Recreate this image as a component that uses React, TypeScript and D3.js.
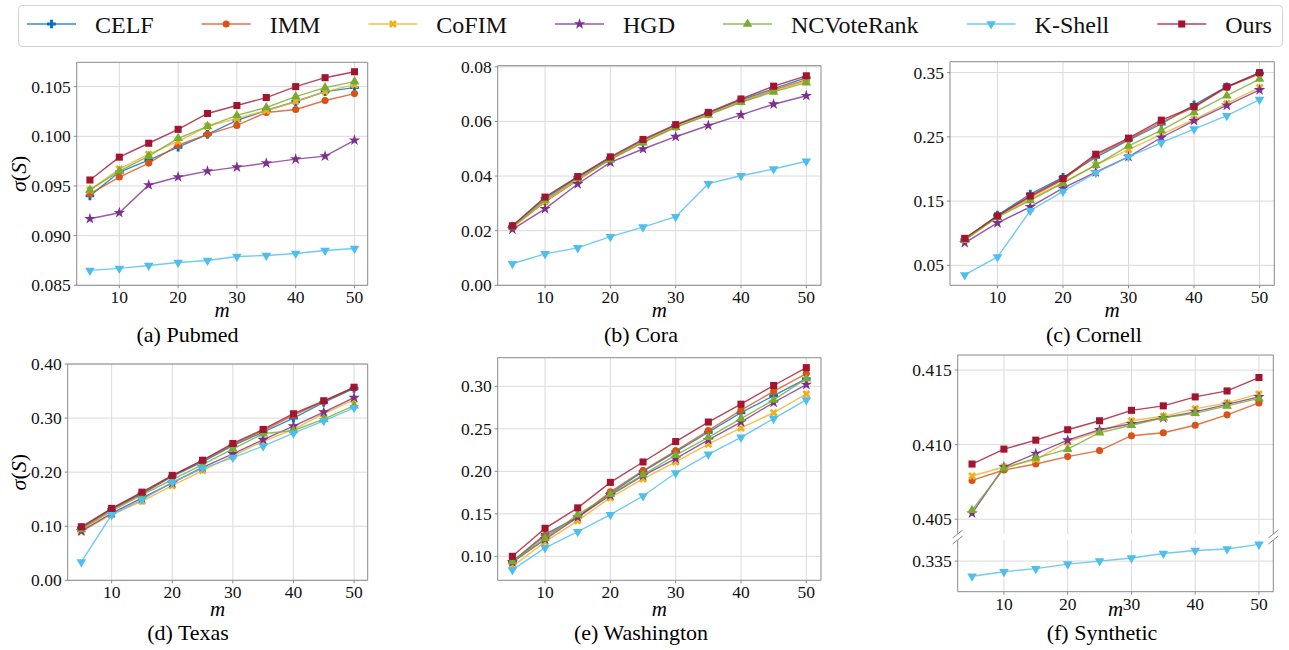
import React from 'react'
import * as d3 from 'd3'

const FONT = "'Liberation Serif', 'Times New Roman', Times, serif"

// x values (seed set size m)
const mValues = [5, 10, 15, 20, 25, 30, 35, 40, 45, 50]
const xTicks = [10, 20, 30, 40, 50]

const methodNames = ['CELF', 'IMM', 'CoFIM', 'HGD', 'NCVoteRank', 'K-Shell', 'Ours']
const methodColors = ['#0072BD', '#D95319', '#EDB120', '#7E2F8E', '#77AC30', '#4DBEEE', '#A2142F']

// series order follows methodNames
const pubmed = [
  [0.0940, 0.0964, 0.0976, 0.0989, 0.1002, 0.1016, 0.1026, 0.1035, 0.1045, 0.1049],
  [0.0942, 0.0959, 0.0973, 0.0991, 0.1002, 0.1011, 0.1024, 0.1027, 0.1036, 0.1043],
  [0.0946, 0.0967, 0.0982, 0.0995, 0.1010, 0.1018, 0.1026, 0.1035, 0.1045, 0.1052],
  [0.0917, 0.0923, 0.0951, 0.0959, 0.0965, 0.0969, 0.0973, 0.0977, 0.0980, 0.0996],
  [0.0946, 0.0965, 0.0980, 0.0998, 0.1010, 0.1021, 0.1029, 0.1040, 0.1049, 0.1055],
  [0.0865, 0.0867, 0.0870, 0.0873, 0.0875, 0.0879, 0.0880, 0.0882, 0.0885, 0.0887],
  [0.0956, 0.0979, 0.0993, 0.1007, 0.1023, 0.1031, 0.1039, 0.1050, 0.1059, 0.1065],
]

const cora = [
  [0.0215, 0.0318, 0.0395, 0.0466, 0.0530, 0.0585, 0.0630, 0.0678, 0.0720, 0.0760],
  [0.0212, 0.0305, 0.0385, 0.0462, 0.0525, 0.0580, 0.0625, 0.0672, 0.0715, 0.0752],
  [0.0213, 0.0308, 0.0388, 0.0463, 0.0527, 0.0582, 0.0627, 0.0673, 0.0712, 0.0748],
  [0.0205, 0.0280, 0.0371, 0.0450, 0.0499, 0.0544, 0.0585, 0.0624, 0.0663, 0.0694],
  [0.0214, 0.0312, 0.0392, 0.0460, 0.0522, 0.0578, 0.0624, 0.0670, 0.0708, 0.0742],
  [0.0079, 0.0115, 0.0137, 0.0178, 0.0213, 0.0251, 0.0372, 0.0401, 0.0426, 0.0454],
  [0.0218, 0.0323, 0.0398, 0.0470, 0.0534, 0.0588, 0.0633, 0.0682, 0.0729, 0.0767],
]

const cornell = [
  [0.090, 0.128, 0.161, 0.187, 0.218, 0.245, 0.270, 0.300, 0.328, 0.349],
  [0.091, 0.126, 0.156, 0.183, 0.221, 0.246, 0.273, 0.296, 0.327, 0.348],
  [0.090, 0.126, 0.153, 0.179, 0.206, 0.230, 0.254, 0.277, 0.302, 0.327],
  [0.085, 0.116, 0.141, 0.170, 0.195, 0.219, 0.249, 0.275, 0.299, 0.323],
  [0.089, 0.125, 0.151, 0.178, 0.206, 0.236, 0.260, 0.288, 0.314, 0.340],
  [0.035, 0.063, 0.135, 0.165, 0.194, 0.219, 0.241, 0.262, 0.283, 0.308],
  [0.092, 0.127, 0.158, 0.185, 0.223, 0.248, 0.276, 0.297, 0.328, 0.350],
]

const texas = [
  [0.097, 0.131, 0.160, 0.192, 0.219, 0.249, 0.274, 0.300, 0.329, 0.355],
  [0.096, 0.132, 0.161, 0.193, 0.222, 0.251, 0.277, 0.305, 0.331, 0.356],
  [0.090, 0.122, 0.146, 0.175, 0.203, 0.230, 0.257, 0.279, 0.308, 0.334],
  [0.091, 0.124, 0.152, 0.180, 0.209, 0.234, 0.260, 0.285, 0.311, 0.338],
  [0.094, 0.128, 0.158, 0.186, 0.214, 0.243, 0.271, 0.277, 0.298, 0.323],
  [0.034, 0.121, 0.149, 0.181, 0.207, 0.227, 0.248, 0.272, 0.295, 0.319],
  [0.099, 0.133, 0.163, 0.194, 0.222, 0.253, 0.279, 0.308, 0.332, 0.357],
]

const washington = [
  [0.094, 0.126, 0.146, 0.174, 0.200, 0.223, 0.246, 0.269, 0.289, 0.309],
  [0.094, 0.124, 0.146, 0.176, 0.201, 0.224, 0.248, 0.272, 0.294, 0.315],
  [0.088, 0.117, 0.142, 0.169, 0.191, 0.211, 0.232, 0.251, 0.269, 0.291],
  [0.093, 0.120, 0.146, 0.172, 0.195, 0.215, 0.237, 0.258, 0.281, 0.302],
  [0.094, 0.121, 0.149, 0.173, 0.196, 0.219, 0.240, 0.262, 0.284, 0.309],
  [0.084, 0.110, 0.129, 0.149, 0.171, 0.198, 0.220, 0.240, 0.262, 0.284],
  [0.100, 0.133, 0.157, 0.187, 0.211, 0.235, 0.258, 0.279, 0.301, 0.322],
]

// CELF is not reported on the synthetic graph
const synthetic = [
  [],
  [0.4076, 0.4083, 0.4087, 0.4092, 0.4096, 0.4106, 0.4108, 0.4113, 0.4120, 0.4128],
  [0.4079, 0.4085, 0.4090, 0.4102, 0.4109, 0.4116, 0.4119, 0.4124, 0.4128, 0.4134],
  [0.4054, 0.4085, 0.4094, 0.4103, 0.4110, 0.4114, 0.4118, 0.4122, 0.4127, 0.4132],
  [0.4056, 0.4084, 0.4091, 0.4097, 0.4108, 0.4113, 0.4118, 0.4121, 0.4126, 0.4131],
  [0.3340, 0.3343, 0.3345, 0.3348, 0.3350, 0.3352, 0.3355, 0.3357, 0.3358, 0.3361],
  [0.4087, 0.4097, 0.4103, 0.4110, 0.4116, 0.4123, 0.4126, 0.4132, 0.4136, 0.4145],
]

const pubmedTicks = [0.085, 0.090, 0.095, 0.100, 0.105]
const coraTicks = [0.00, 0.02, 0.04, 0.06, 0.08]
const cornellTicks = [0.05, 0.15, 0.25, 0.35]
const texasTicks = [0.00, 0.10, 0.20, 0.30, 0.40]
const washingtonTicks = [0.10, 0.15, 0.20, 0.25, 0.30]
const syntheticTicks = [0.405, 0.410, 0.415]
const syntheticLowTicks = [0.335]

const GRID = '#dadada'
const SPINE = '#8a8a8a'

const markerPath = (i: number) => {
  const types = [d3.symbolCross, d3.symbolCircle, d3.symbolCross, d3.symbolStar, d3.symbolTriangle, d3.symbolTriangle, d3.symbolSquare]
  const sizes = [42, 40, 40, 40, 40, 40, 50]
  return d3.symbol(types[i], sizes[i])() as string
}
const markerRot = [0, 0, 45, 0, 0, 180, 0]

const Marker = ({ i, x, y }: { i: number; x: number; y: number }) => (
  <path d={markerPath(i)} transform={`translate(${x},${y}) rotate(${markerRot[i]})`} fill={methodColors[i]} />
)

type AxesProps = {
  x0: number; x1: number; y0: number; y1: number
  yDomain: [number, number]; yTicks: number[]; yFmt: string
  series: number[][]
  spines: { top: boolean; bottom: boolean }
  xLabels: boolean
}

const Axes = ({ x0, x1, y0, y1, yDomain, yTicks, yFmt, series, spines, xLabels }: AxesProps) => {
  const xs = d3.scaleLinear().domain([2.75, 52.25]).range([x0, x1])
  const ys = d3.scaleLinear().domain(yDomain).range([y1, y0])
  const fmt = d3.format(yFmt)
  const line = d3.line<number>().x((_, k) => xs(mValues[k])).y(v => ys(v))
  const inRange = (s: number[]) => s.length > 0 && s[0] >= yDomain[0] && s[0] <= yDomain[1]
  return (
    <g>
      {xTicks.map(t => (
        <line key={'gx' + t} x1={xs(t)} x2={xs(t)} y1={y0} y2={y1} stroke={GRID} strokeWidth={1} />
      ))}
      {yTicks.map(t => (
        <line key={'gy' + t} x1={x0} x2={x1} y1={ys(t)} y2={ys(t)} stroke={GRID} strokeWidth={1} />
      ))}
      {series.map((s, i) => inRange(s) ? (
        <g key={'s' + i}>
          <path d={line(s) as string} fill="none" stroke={methodColors[i]} strokeOpacity={0.8} strokeWidth={1.4} />
          {s.map((v, k) => <Marker key={k} i={i} x={xs(mValues[k])} y={ys(v)} />)}
        </g>
      ) : null)}
      <line x1={x0} x2={x0} y1={y0} y2={y1} stroke={SPINE} />
      <line x1={x1} x2={x1} y1={y0} y2={y1} stroke={SPINE} />
      {spines.top && <line x1={x0} x2={x1} y1={y0} y2={y0} stroke={SPINE} />}
      {spines.bottom && <line x1={x0} x2={x1} y1={y1} y2={y1} stroke={SPINE} />}
      {yTicks.map(t => (
        <g key={'ty' + t}>
          <line x1={x0 - 3} x2={x0} y1={ys(t)} y2={ys(t)} stroke={SPINE} />
          <text x={x0 - 6} y={ys(t) + 6} textAnchor="end" fontSize={17.5} fontFamily={FONT} fill="#111">{fmt(t)}</text>
        </g>
      ))}
      {xLabels && xTicks.map(t => (
        <g key={'tx' + t}>
          <line x1={xs(t)} x2={xs(t)} y1={y1} y2={y1 + 3} stroke={SPINE} />
          <text x={xs(t)} y={y1 + 18} textAnchor="middle" fontSize={17.5} fontFamily={FONT} fill="#111">{t}</text>
        </g>
      ))}
    </g>
  )
}

type PanelProps = {
  x0: number; x1: number; y0: number; y1: number
  yDomain: [number, number]; yTicks: number[]; yFmt: string
  series: number[][]
  caption: string; capX: number; capY: number
  yLabel?: boolean; mY: number
}

const Panel = (p: PanelProps) => (
  <g>
    <Axes x0={p.x0} x1={p.x1} y0={p.y0} y1={p.y1} yDomain={p.yDomain} yTicks={p.yTicks} yFmt={p.yFmt}
      series={p.series} spines={{ top: true, bottom: true }} xLabels />
    <text x={(p.x0 + p.x1) / 2} y={p.mY} textAnchor="middle" fontSize={21} fontStyle="italic" fontFamily={FONT}>m</text>
    <text x={p.capX} y={p.capY} textAnchor="middle" fontSize={22} fontFamily={FONT}>{p.caption}</text>
    {p.yLabel && (
      <text transform={`translate(26,${(p.y0 + p.y1) / 2}) rotate(-90)`} textAnchor="middle" fontSize={22} fontFamily={FONT}>
        <tspan fontStyle="italic">σ</tspan>(<tspan fontStyle="italic">S</tspan>)
      </text>
    )}
  </g>
)

const measure = (t: string) => {
  const ctx = document.createElement('canvas').getContext('2d')
  if (!ctx) return t.length * 11
  ctx.font = `24px ${FONT}`
  return ctx.measureText(t).width
}

const Legend = () => {
  let x = 27
  const items = methodNames.map((name, i) => {
    const x0 = x
    x += 49 + 19 + measure(name) + 48
    return (
      <g key={name}>
        <line x1={x0} x2={x0 + 49} y1={24} y2={24} stroke={methodColors[i]} strokeOpacity={0.8} strokeWidth={1.4} />
        <Marker i={i} x={x0 + 24.5} y={24} />
        <text x={x0 + 68} y={32.5} fontSize={24} fontFamily={FONT} fill="#111">{name}</text>
      </g>
    )
  })
  return (
    <g>
      <rect x={18.5} y={5.5} width={1264} height={41} rx={4} fill="#fff" stroke="#d3d3d3" />
      {items}
    </g>
  )
}

export default function App() {
  const fx0 = 957.7, fx1 = 1273.3
  const upY0 = 355, upY1 = 534, loY0 = 540, loY1 = 591.7
  const brk = (x: number, y: number) => (
    <line x1={x - 5} y1={y + 4} x2={x + 5} y2={y - 4} stroke={SPINE} />
  )
  return (
    <svg width={1289} height={650} style={{ position: 'absolute', left: 0, top: 0, background: '#fff' }}>
      <Legend />
      <Panel x0={76.7} x1={367.7} y0={62.3} y1={285.3} yDomain={[0.085, 0.10745]} yTicks={pubmedTicks} yFmt=".3f"
        series={pubmed} caption="(a) Pubmed" capX={187.5} capY={342} yLabel mY={317} />
      <Panel x0={497.7} x1={821} y0={65.7} y1={285.3} yDomain={[0, 0.0804]} yTicks={coraTicks} yFmt=".2f"
        series={cora} caption="(b) Cora" capX={641} capY={342} mY={317} />
      <Panel x0={950} x1={1274.3} y0={61.7} y1={285.3} yDomain={[0.0189, 0.367]} yTicks={cornellTicks} yFmt=".2f"
        series={cornell} caption="(c) Cornell" capX={1094} capY={342} mY={317} />
      <Panel x0={67.7} x1={367.7} y0={364} y1={580.3} yDomain={[0, 0.40]} yTicks={texasTicks} yFmt=".2f"
        series={texas} caption="(d) Texas" capX={188} capY={640} yLabel mY={615.5} />
      <Panel x0={497.7} x1={821} y0={357.7} y1={580.3} yDomain={[0.0718, 0.3337]} yTicks={washingtonTicks} yFmt=".2f"
        series={washington} caption="(e) Washington" capX={641} capY={640} mY={615.5} />
      <Axes x0={fx0} x1={fx1} y0={upY0} y1={upY1} yDomain={[0.40401, 0.41601]} yTicks={syntheticTicks} yFmt=".3f"
        series={synthetic} spines={{ top: true, bottom: false }} xLabels={false} />
      <Axes x0={fx0} x1={fx1} y0={loY0} y1={loY1} yDomain={[0.33298, 0.33639]} yTicks={syntheticLowTicks} yFmt=".3f"
        series={synthetic} spines={{ top: false, bottom: true }} xLabels />
      {brk(fx0, upY1)}
      {brk(fx0, loY0)}
      {brk(fx1, upY1)}
      {brk(fx1, loY0)}
      <text x={(fx0 + fx1) / 2} y={616} textAnchor="middle" fontSize={21} fontStyle="italic" fontFamily={FONT}>m</text>
      <text x={1102} y={640} textAnchor="middle" fontSize={22} fontFamily={FONT}>(f) Synthetic</text>
    </svg>
  )
}
